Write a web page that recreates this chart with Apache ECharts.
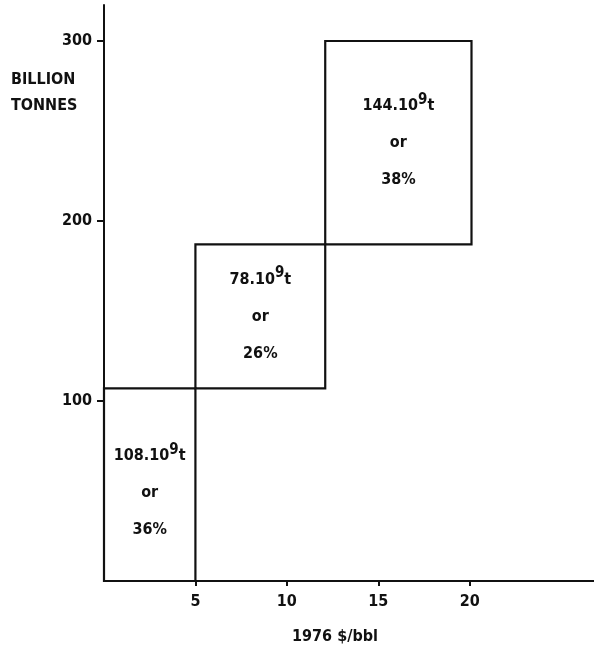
<!DOCTYPE html>
<html>
<head>
<meta charset="utf-8">
<script src="https://cdn.jsdelivr.net/npm/echarts@6/dist/echarts.min.js"></script>
<style>
  html, body { margin: 0; padding: 0; background: #fff; }
  #main { width: 594px; height: 648px; }
</style>
</head>
<body>
<div id="main"></div>
<script>
// blocks of reserves by price band ($/bbl) and cumulative tonnage (billion t)
var xStart = [0, 5, 12.1];
var xEnd = [5, 12.1, 20.1];
var yBottom = [0, 107, 187];
var yTop = [107, 187, 300];
var amounts = ['108', '78', '144'];
var shares = ['36%', '26%', '38%'];
var xTicks = [5, 10, 15, 20];
var yTicks = [100, 200, 300];

var font = '"DejaVu Sans Condensed", "Liberation Sans", sans-serif';
var ink = '#111';

var myChart = echarts.init(document.getElementById('main'));

var blocks = xStart.map(function (x, i) {
    return [x, xEnd[i], yBottom[i], yTop[i]];
});

myChart.setOption({
    animation: false,
    grid: { left: 104, right: 0, top: 5, bottom: 67 },
    xAxis: {
        type: 'value',
        min: 0,
        max: 26.8,
        axisLine: { lineStyle: { color: ink, width: 2 } },
        axisTick: { customValues: xTicks, length: 5, lineStyle: { color: ink, width: 2 } },
        axisLabel: {
            customValues: xTicks,
            color: ink, fontFamily: font, fontWeight: 'bold', fontSize: 16, margin: 13
        },
        splitLine: { show: false }
    },
    yAxis: {
        type: 'value',
        min: 0,
        max: 320,
        axisLine: { show: true, lineStyle: { color: ink, width: 2 } },
        axisTick: { show: true, customValues: yTicks, length: 7, lineStyle: { color: ink, width: 2 } },
        axisLabel: {
            customValues: yTicks,
            color: ink, fontFamily: font, fontWeight: 'bold', fontSize: 16, margin: 12
        },
        splitLine: { show: false }
    },
    graphic: [
        {
            type: 'text', left: 11, top: 67,
            style: {
                text: 'BILLION\nTONNES', fill: ink, font: 'bold 16px ' + font, lineHeight: 26
            }
        },
        {
            type: 'text', x: 335, y: 637,
            style: {
                text: '1976 $/bbl', fill: ink, font: 'bold 16px ' + font,
                align: 'center', verticalAlign: 'middle'
            }
        }
    ],
    series: [{
        type: 'custom',
        data: blocks,
        encode: { x: [0, 1], y: [2, 3] },
        renderItem: function (params, api) {
            var i = params.dataIndex;
            var p0 = api.coord([api.value(0), api.value(3)]);
            var p1 = api.coord([api.value(1), api.value(2)]);
            return {
                type: 'group',
                children: [{
                    type: 'rect',
                    shape: { x: p0[0], y: p0[1], width: p1[0] - p0[0], height: p1[1] - p0[1] },
                    style: { fill: 'none', stroke: ink, lineWidth: 2.2 }
                }, {
                    type: 'text',
                    x: (p0[0] + p1[0]) / 2,
                    y: (p0[1] + p1[1]) / 2 + (i === 0 ? 8 : 0),
                    style: {
                        text: '{a|' + amounts[i] + '.10}{s|9}{a|t}\n{a|or}\n{a|' + shares[i] + '}',
                        align: 'center',
                        verticalAlign: 'middle',
                        fill: ink,
                        rich: {
                            a: { fontFamily: font, fontWeight: 'bold', fontSize: 16, lineHeight: 37, fill: ink },
                            s: { fontFamily: font, fontWeight: 'bold', fontSize: 15, lineHeight: 37, fill: ink, padding: [0, 0, 12, 0] }
                        }
                    }
                }]
            };
        }
    }]
});
</script>
</body>
</html>
